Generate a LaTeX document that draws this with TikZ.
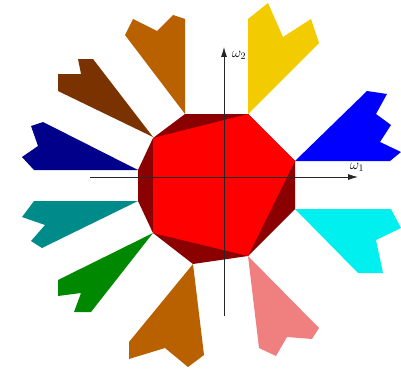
\documentclass[tikz,border=0pt]{standalone}
\usetikzlibrary{arrows.meta}
\definecolor{outerred}{RGB}{139,0,0}
\definecolor{innerred}{RGB}{255,0,0}
\definecolor{petorange}{RGB}{185,96,0}
\definecolor{petbrown}{RGB}{122,50,0}
\definecolor{petnavy}{RGB}{0,0,139}
\definecolor{petyellow}{RGB}{242,204,0}
\definecolor{petblue}{RGB}{0,0,255}
\definecolor{petcyan}{RGB}{0,240,240}
\definecolor{petpink}{RGB}{240,128,128}
\definecolor{petgreen}{RGB}{0,136,0}
\definecolor{petteal}{RGB}{0,139,139}
\begin{document}
\begin{tikzpicture}[x=1pt,y=-1pt,
  axisline/.style={line width=0.8pt,black!85,-{Latex[length=10pt,width=6pt]}},
  axislabel/.style={inner sep=0pt,font=\fontsize{14}{16}\selectfont}]
\useasboundingbox (0,0) rectangle (401,369);
% outer polygon
\fill[outerred] (185,114) -- (248,114) -- (295,161) -- (295,209) -- (248,256) -- (193,264) -- (153,233) -- (138,201) -- (138,170) -- (153,138) -- cycle;
% inner polygon
\fill[innerred] (153,138) -- (248,114) -- (295,161) -- (248,256) -- (153,233) -- cycle;
% petals
\fill[petorange] (185,114) -- (185,19) -- (173,15) -- (157,31) -- (133,19) -- (125,35) -- cycle;
\fill[petbrown] (153,137) -- (93,59) -- (78,59) -- (81,74) -- (58,74) -- (58,91) -- cycle;
\fill[petnavy] (138,170) -- (34,170) -- (22,157) -- (38,146) -- (31,126) -- (43,122) -- cycle;
\fill[petyellow] (248,114) -- (248,19) -- (268,3) -- (283,37) -- (311,19) -- (319,43) -- cycle;
\fill[petblue] (295,161) -- (367,91) -- (387,94) -- (376,114) -- (391,125) -- (380,142) -- (401,152) -- (390,161) -- cycle;
\fill[petcyan] (295,209) -- (391,209) -- (401,228) -- (376,240) -- (383,273) -- (358,273) -- cycle;
\fill[petpink] (248,256) -- (319,328) -- (312,339) -- (287,337) -- (276,356) -- (259,348) -- cycle;
\fill[petorange] (193,264) -- (129,342) -- (129,359) -- (165,348) -- (188,367) -- (204,355) -- cycle;
\fill[petgreen] (153,233) -- (58,280) -- (58,296) -- (81,293) -- (74,312) -- (91,312) -- cycle;
\fill[petteal] (138,201) -- (34,201) -- (22,217) -- (45,225) -- (31,241) -- (42,248) -- cycle;
% axes
\coordinate (xs) at (90,177);
\coordinate (xe) at (358,177);
\coordinate (ys) at (224,316);
\coordinate (ye) at (224,47);
\draw[axisline] (xs) -- (xe);
\draw[axisline] (ys) -- (ye);
\node[axislabel] (w1) at (357,167) {$\omega_1$};
\node[axislabel] (w2) at (239,55) {$\omega_2$};
\end{tikzpicture}
\end{document}
